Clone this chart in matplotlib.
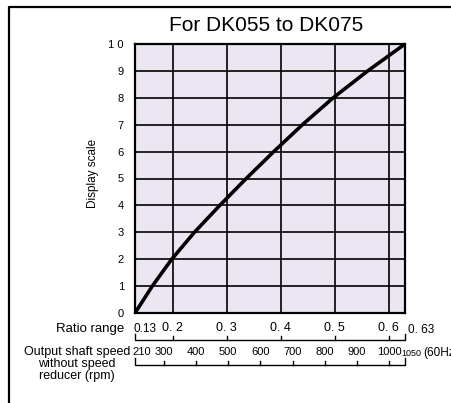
import numpy as np
import matplotlib
matplotlib.use("Agg")
import matplotlib.pyplot as plt
from matplotlib.lines import Line2D
from matplotlib.transforms import blended_transform_factory

# display scale 0..10 against speed ratio
scale_values = [0, 1, 2, 3, 4, 5, 6, 7, 8, 9, 10]
ratio_at_scale = [0.13, 0.162, 0.198, 0.240, 0.287, 0.336, 0.387, 0.440, 0.497, 0.561, 0.63]

ratio_min, ratio_max = 0.13, 0.63
ratio_ticks = [0.2, 0.3, 0.4, 0.5, 0.6]
ratio_labels = ["0. 2", "0. 3", "0. 4", "0. 5", "0. 6"]

speed_min, speed_max = 210, 1050
speed_ticks = [300, 400, 500, 600, 700, 800, 900, 1000]

plt.rcParams["font.family"] = ["Liberation Sans Narrow", "Liberation Sans", "DejaVu Sans"]

W, H = 451, 403
fig = plt.figure(figsize=(W / 100, H / 100), dpi=100)
fig.patch.set_facecolor("white")

# plot area in pixels: x 135..405, y 44..313
ax = fig.add_axes([135 / W, (H - 313) / H, 270 / W, 269 / H])
ax.set_facecolor("#ebe6f2")
ax.set_xlim(ratio_min, ratio_max)
ax.set_ylim(0, 10)

for r in ratio_ticks:
    ax.axvline(r, color="black", lw=1.2, zorder=1)
for s in scale_values[1:-1]:
    ax.axhline(s, color="black", lw=1.2, zorder=1)
for sp in ax.spines.values():
    sp.set_linewidth(1.6)

ax.plot(ratio_at_scale, scale_values, color="black", lw=2.6,
        solid_capstyle="butt", solid_joinstyle="round", zorder=3)

ax.set_xticks([])
ax.set_yticks(scale_values)
ax.set_yticklabels([str(v) if v < 10 else "1 0" for v in scale_values], fontsize=8)
ax.tick_params(axis="y", length=0, pad=8)
ax.set_ylabel("Display scale", fontsize=8.5, labelpad=7)
ax.yaxis.set_label_coords(-0.135, 0.52)

fig.text(266 / W, 1 - 25.5 / H, "For DK055 to DK075", ha="center", va="center",
         fontsize=15, family=["Liberation Sans", "DejaVu Sans"])

# bracket scales under the plot: x in ratio units, y in figure pixels
tr = blended_transform_factory(ax.transData, fig.transFigure)


def fy(py):
    return 1 - py / H


def bracket(y_line, y_end, y_tick, tick_pos):
    xs = [ratio_min, ratio_min, ratio_max, ratio_max]
    ys = [fy(y_end), fy(y_line), fy(y_line), fy(y_end)]
    ax.add_line(Line2D(xs, ys, transform=tr, color="black", lw=1.0, clip_on=False))
    for t in tick_pos:
        ax.add_line(Line2D([t, t], [fy(y_line), fy(y_tick)], transform=tr,
                           color="black", lw=1.0, clip_on=False))


# ratio range row
bracket(340, 334, 336, ratio_ticks)
ax.text(ratio_min - 0.003, fy(329), "0.13", transform=tr, ha="left", va="center",
        fontsize=8.5, clip_on=False)
for r, lab in zip(ratio_ticks, ratio_labels):
    ax.text(r, fy(328), lab, transform=tr, ha="center", va="center",
            fontsize=9, clip_on=False)
ax.text(ratio_max + 0.005, fy(330), "0. 63", transform=tr, ha="left", va="center",
        fontsize=8.5, clip_on=False)
fig.text(124 / W, fy(329), "Ratio range", ha="right", va="center", fontsize=9.5)

# output shaft speed row
speed_as_ratio = np.interp(speed_ticks, [speed_min, speed_max], [ratio_min, ratio_max])
bracket(365, 358, 361, speed_as_ratio)
ax.text(ratio_min - 0.004, fy(352), str(speed_min), transform=tr, ha="left",
        va="center", fontsize=8, clip_on=False)
for r, v in zip(speed_as_ratio, speed_ticks):
    ax.text(r, fy(352), str(v), transform=tr, ha="center", va="center",
            fontsize=8, clip_on=False)
ax.text(ratio_max - 0.006, fy(353), str(speed_max), transform=tr, ha="left",
        va="center", fontsize=6.5, clip_on=False)
fig.text(423 / W, fy(353), "(60Hz)", ha="left", va="center", fontsize=8.5)
fig.text(77 / W, fy(364), "Output shaft speed\nwithout speed\nreducer (rpm)",
         ha="center", va="center", fontsize=9, linespacing=0.95)

# outer frame, left and top edges only
fig.add_artist(Line2D([9 / W, 9 / W, 1], [0, fy(7), fy(7)],
                      transform=fig.transFigure, color="black", lw=1.6))

fig.savefig("out.png", dpi=100)
